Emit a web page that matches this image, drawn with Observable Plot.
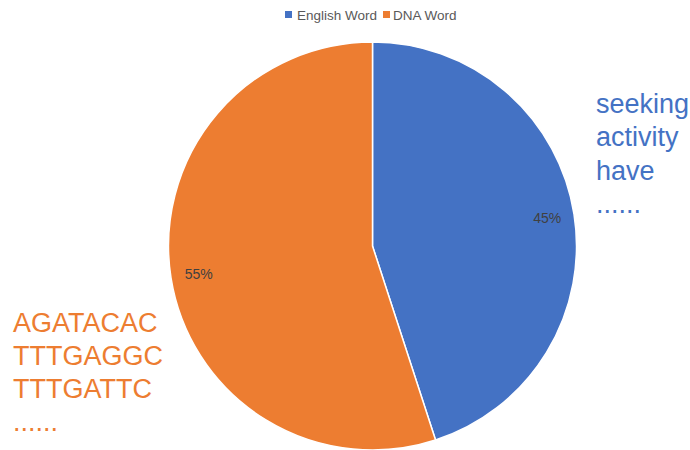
<!DOCTYPE html>
<html>
<head>
<meta charset="utf-8">
<script src="https://cdn.jsdelivr.net/npm/d3@7"></script>
<script src="https://cdn.jsdelivr.net/npm/@observablehq/plot@0.6"></script>
<style>
  html, body { margin: 0; padding: 0; background: #fff; }
  svg { display: block; }
</style>
</head>
<body>
<div id="chart"></div>
<script>
const categories = ["English Word", "DNA Word"];
const shares = [45, 55];
const colors = ["#4472C4", "#ED7D31"];
const englishExamples = ["seeking", "activity", "have", "......"];
const dnaExamples = ["AGATACAC", "TTTGAGGC", "TTTGATTC", "......"];

const data = categories.map((c, i) => ({category: c, value: shares[i]}));
const arcs = d3.pie().sort(null).value(d => d.value)(data);
const labelR = 0.865;
const labels = arcs.map(a => {
  const mid = (a.startAngle + a.endAngle) / 2;
  return {x: Math.sin(mid) * labelR, y: -Math.cos(mid) * labelR, text: a.data.value + "%"};
});

const W = 690, H = 450, cx = 372.5, cy = 246, R = 204;
const font = "Liberation Sans, Arial, sans-serif";

function pieMark(index, scales) {
  const g = d3.create("svg:g");
  const x0 = scales.x(0), y0 = scales.y(0), r = scales.x(1) - scales.x(0);
  const arc = d3.arc().innerRadius(0).outerRadius(r);
  g.selectAll("path").data(arcs).join("path")
    .attr("transform", `translate(${x0},${y0})`)
    .attr("d", arc)
    .attr("fill", d => scales.color(d.data.category))
    .attr("stroke", "#fff")
    .attr("stroke-width", 1.5)
    .attr("stroke-linejoin", "round");
  return g.node();
}

const legendItems = [
  {cat: categories[0], rx: 285, tx: 297},
  {cat: categories[1], rx: 383, tx: 393}
];

function legendMark(index, scales) {
  const g = d3.create("svg:g").attr("text-anchor", "start");
  legendItems.forEach(d => {
    g.append("rect").attr("x", d.rx).attr("y", 11).attr("width", 7).attr("height", 7)
      .attr("fill", scales.color(d.cat));
    g.append("text").attr("x", d.tx).attr("y", 19.5).attr("fill", "#595959")
      .attr("font-size", 13.5).attr("font-family", font).text(d.cat);
  });
  return g.node();
}

function examplesMark(list, cat, x, y0, step) {
  return (index, scales) => {
    const g = d3.create("svg:g").attr("text-anchor", "start");
    list.forEach((t, i) => {
      g.append("text").attr("x", x).attr("y", y0 + i * step).attr("fill", scales.color(cat))
        .attr("font-size", 27).attr("font-family", font).text(t);
    });
    return g.node();
  };
}

const plot = Plot.plot({
  width: W, height: H,
  margin: 0,
  x: {domain: [-cx / R, (W - cx) / R], range: [0, W], axis: null},
  y: {domain: [-cy / R, (H - cy) / R], range: [0, H], axis: null},
  color: {domain: categories, range: colors},
  style: {fontFamily: font, background: "#fff"},
  marks: [
    pieMark,
    Plot.text(labels, {x: "x", y: "y", text: "text", fill: "#404040", fontSize: 14}),
    legendMark,
    examplesMark(englishExamples, categories[0], 596, 113, 33.3),
    examplesMark(dnaExamples, categories[1], 13, 332, 33)
  ]
});
document.getElementById("chart").appendChild(plot);
</script>
</body>
</html>
